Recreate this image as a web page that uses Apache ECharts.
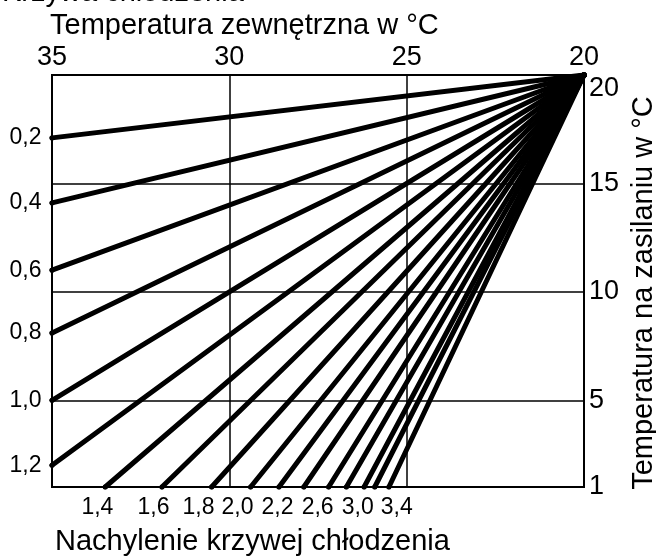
<!DOCTYPE html>
<html>
<head>
<meta charset="utf-8">
<script src="https://cdn.jsdelivr.net/npm/echarts@6/dist/echarts.min.js"></script>
<style>
  html, body { margin: 0; padding: 0; background: #fff; }
  #chart { width: 656px; height: 559px; }
</style>
</head>
<body>
<div id="chart"></div>
<script>
// Outdoor temperature axis (top, reversed) and supply temperature axis (right)
const outdoorTicks = [20, 25, 30, 35];
const supplyTicks = [1, 5, 10, 15, 20];

// Common point where every cooling curve starts: 20 °C outdoor, 20 °C supply
const origin = [20, 20];

// Flat curves: supply temperature reached at 35 °C outdoor
const flatSlopes = ['0,2', '0,4', '0,6', '0,8', '1,0', '1,2'];
const flatEndSupply = [17.1, 14.1, 11.0, 8.1, 5.0, 2.0];

// Steep curves: outdoor temperature where supply reaches 1 °C
const steepSlopes = ['1,4', '1,6', '1,8', '2,0', '2,2', '2,4', '2,6', '2,8', '3,0', '3,2', '3,4'];
const steepEndOutdoor = [33.5, 31.9, 30.5, 29.4, 28.6, 27.9, 27.2, 26.7, 26.2, 25.9, 25.5];

// Slope captions printed under the bottom edge (outdoor-temperature positions)
const slopeCaptionText = ['1,4', '1,6', '1,8', '2,0', '2,2', '2,6', '3,0', '3,4'];
const slopeCaptionAt = [33.72, 32.14, 30.87, 29.77, 28.64, 27.51, 26.38, 25.28];

const FONT = "'Liberation Sans', Arial, sans-serif";
const lineStyle = { color: '#000', width: 5, cap: 'round' };

const series = [];
flatSlopes.forEach((name, i) => {
  series.push({
    type: 'line', name: name, xAxisIndex: 0, yAxisIndex: 0,
    symbol: 'circle', symbolSize: 5, showSymbol: true,
    itemStyle: { color: '#000' }, lineStyle: lineStyle,
    silent: true, animation: false,
    data: [
      { value: [35, flatEndSupply[i]],
        label: { show: true, position: 'left', distance: 8, formatter: name,
                 color: '#000', fontSize: 23, fontFamily: FONT } },
      origin
    ]
  });
});
steepSlopes.forEach((name, i) => {
  series.push({
    type: 'line', name: name, xAxisIndex: 0, yAxisIndex: 0,
    symbol: 'circle', symbolSize: 5, showSymbol: true,
    itemStyle: { color: '#000' }, lineStyle: lineStyle,
    silent: true, animation: false,
    data: [[steepEndOutdoor[i], 1], origin]
  });
});

const chart = echarts.init(document.getElementById('chart'), null, { renderer: 'canvas' });
chart.setOption({
  backgroundColor: '#fff',
  animation: false,
  grid: { left: 52, right: 72, top: 75, bottom: 72, show: true,
          outerBoundsMode: 'none', containLabel: false,
          borderColor: '#000', borderWidth: 2, backgroundColor: 'transparent' },
  graphic: [
    { type: 'text', left: 2, top: -22,
      style: { text: 'Krzywa chłodzenia', font: '29px ' + FONT, fill: '#000' } },
    { type: 'text', left: 50, top: 11,
      style: { text: 'Temperatura zewnętrzna w °C', font: '29px ' + FONT, fill: '#000' } },
    { type: 'text', left: 55, top: 527,
      style: { text: 'Nachylenie krzywej chłodzenia', font: '29px ' + FONT, fill: '#000' } }
  ],
  xAxis: [{
    type: 'value', position: 'top', min: outdoorTicks[0], max: outdoorTicks[3],
    interval: 5, inverse: true,
    axisLine: { show: true, lineStyle: { color: '#000', width: 2 } },
    axisTick: { show: false },
    axisLabel: { color: '#000', fontSize: 27, fontFamily: FONT, margin: 4,
                 customValues: outdoorTicks },
    splitLine: { show: true, lineStyle: { color: '#000', width: 1.5 } }
  }, {
    // slope captions along the bottom edge
    type: 'value', position: 'bottom', min: outdoorTicks[0], max: outdoorTicks[3],
    inverse: true,
    axisLine: { show: false }, axisTick: { show: false }, splitLine: { show: false },
    axisLabel: {
      color: '#000', fontSize: 23, fontFamily: FONT, margin: 9,
      customValues: slopeCaptionAt,
      formatter: v => slopeCaptionText[slopeCaptionAt.indexOf(v)] || ''
    }
  }],
  yAxis: [{
    type: 'value', position: 'right', min: 1, max: 20,
    name: 'Temperatura na zasilaniu w °C', nameLocation: 'middle', nameGap: 44,
    nameTextStyle: { color: '#000', fontSize: 29, fontFamily: FONT, padding: [0, 24, 0, 0] },
    axisLine: { show: true, lineStyle: { color: '#000', width: 2 } },
    axisTick: { show: false, customValues: supplyTicks },
    axisLabel: { color: '#000', fontSize: 27, fontFamily: FONT, margin: 5,
                 customValues: supplyTicks, verticalAlignMaxLabel: 'top' },
    splitLine: { show: true, lineStyle: { color: '#000', width: 1.5 } }
  }],
  series: series
});
</script>
</body>
</html>
